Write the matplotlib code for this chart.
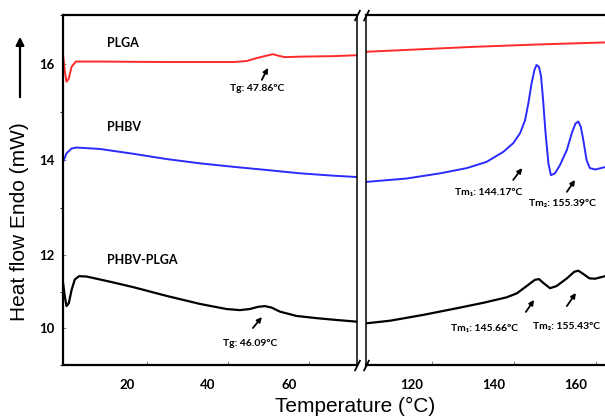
import numpy as np
import matplotlib
matplotlib.use("Agg")
import matplotlib.pyplot as plt
import matplotlib.transforms as mtransforms
from matplotlib.ticker import MultipleLocator

# ---- data (T in degC, heat flow in mW) ----
plga_T_lo = [-0.67, -0.25, 0.17, 0.74, 1.41, 2.47, 8.4, 24.86, 41.31, 44.62, 47.09, 49.56, 51.19,
             52.42, 54.07, 57.78, 66.0, 72.17]
plga_H_lo = [16.18, 15.84, 15.63, 15.70, 15.94, 16.05, 16.05, 16.04, 16.04, 16.06, 16.12, 16.17, 16.20,
             16.17, 16.14, 16.15, 16.16, 16.18]
plga_T_hi = [104.1, 117.1, 130.1, 146.3, 162.2]
plga_H_hi = [16.25, 16.30, 16.35, 16.40, 16.44]

phbv_T_lo = [-0.67, 0.17, 1.41, 2.64, 8.4, 16.62, 24.86, 33.09, 42.15, 49.56, 57.78, 66.0, 72.17]
phbv_H_lo = [13.96, 14.14, 14.24, 14.26, 14.23, 14.13, 14.02, 13.93, 13.85, 13.79, 13.72, 13.67, 13.64]
phbv_T_hi = [104.1, 113.8, 122.0, 128.5, 133.3, 137.4, 139.8, 141.5, 142.7, 143.5, 144.3, 145.0, 145.5,
             146.1, 146.6, 147.1, 147.7, 148.4, 149.0, 150.0, 151.2, 152.9, 154.1, 155.0, 155.7,
             156.3, 156.9, 157.7, 158.5, 159.8, 162.2]
phbv_H_hi = [13.54, 13.61, 13.72, 13.83, 13.96, 14.17, 14.35, 14.56, 14.83, 15.18, 15.60, 15.88, 15.98,
             15.94, 15.74, 15.25, 14.56, 13.93, 13.68, 13.72, 13.89, 14.21, 14.56, 14.76, 14.80,
             14.69, 14.42, 14.00, 13.83, 13.80, 13.85]

blend_T_lo = [-0.67, -0.25, 0.17, 0.74, 1.41, 2.22, 3.28, 5.11, 10.86, 16.62, 24.86, 33.09, 39.68,
              42.96, 45.43, 47.48, 49.14, 50.79, 52.84, 56.96, 61.9, 66.84, 72.17]
blend_H_lo = [11.22, 10.86, 10.60, 10.68, 11.04, 11.33, 11.42, 11.41, 11.27, 11.12, 10.88, 10.66, 10.52,
              10.49, 10.52, 10.58, 10.60, 10.56, 10.45, 10.33, 10.27, 10.22, 10.17]
blend_T_hi = [104.1, 109.8, 117.9, 126.0, 132.5, 138.2, 140.7, 143.1, 145.1, 146.1, 147.1, 148.8,
              150.4, 152.9, 154.7, 155.7, 156.9, 158.4, 159.8, 162.2]
blend_H_hi = [10.13, 10.20, 10.36, 10.54, 10.69, 10.84, 10.95, 11.15, 11.32, 11.34, 11.24, 11.09,
              11.15, 11.36, 11.54, 11.57, 11.48, 11.36, 11.35, 11.42]

y_ticks = [10, 12, 14, 16]
x_ticks_lo = [20, 40, 60]
x_ticks_hi = [120, 140, 160]

# the published y axis is not evenly spaced, so map it piecewise
V_ext = np.array([0, 9, 10, 12, 14, 16, 17, 30], dtype=float)
P_ext = np.array([698, 365, 328, 255, 160, 64, 15, -622], dtype=float)

def fwd(v):
    return np.interp(v, V_ext, -P_ext)

def inv(u):
    return np.interp(u, -P_ext, V_ext)

tick_font = dict(family=["Lato", "DejaVu Sans"], weight="bold", size=9.5)
note_font = dict(family=["Lato", "DejaVu Sans"], weight="bold", size=7.5)
name_font = dict(family=["Lato", "DejaVu Sans"], weight="bold", size=9)

W, H = 605, 418
fig = plt.figure(figsize=(W / 100, H / 100), dpi=100)
ax1 = fig.add_axes([63 / W, (H - 365) / H, (357 - 63) / W, 350 / H])
ax2 = fig.add_axes([366 / W, (H - 365) / H, (W - 366) / W, 350 / H])

for ax in (ax1, ax2):
    ax.set_yscale("function", functions=(fwd, inv))
    ax.set_ylim(9, 17)
    ax.tick_params(direction="in", length=3, width=0.7, color="#888888")
    for s in ax.spines.values():
        s.set_linewidth(1.6)

ax1.set_xlim(-0.7, 71.9)
ax2.set_xlim(103.9, 162.2)

ax1.plot(plga_T_lo, plga_H_lo, color="#ff2a2a", lw=1.4)
ax1.plot(phbv_T_lo, phbv_H_lo, color="#2b2bff", lw=1.4)
ax1.plot(blend_T_lo, blend_H_lo, color="black", lw=1.6)
ax2.plot(plga_T_hi, plga_H_hi, color="#ff2a2a", lw=1.4)
ax2.plot(phbv_T_hi, phbv_H_hi, color="#2b2bff", lw=1.4)
ax2.plot(blend_T_hi, blend_H_hi, color="black", lw=1.6)

ax1.set_yticks(y_ticks)
ax1.set_yticklabels([str(v) for v in y_ticks], **tick_font)
ax1.yaxis.set_minor_locator(MultipleLocator(1))
ax1.tick_params(axis="y", which="both", length=2, pad=6)
ax1.set_xticks(x_ticks_lo)
ax1.set_xticklabels([str(v) for v in x_ticks_lo], **tick_font)
ax2.set_xticks(x_ticks_hi)
ax2.set_xticklabels([str(v) for v in x_ticks_hi], **tick_font)
for ax in (ax1, ax2):
    ax.tick_params(axis="x", pad=10)

ax2.set_yticks([])
ax2.yaxis.set_minor_locator(MultipleLocator(100))
ax2.spines["right"].set_visible(False)
ax1.spines["right"].set_linewidth(1.1)
ax2.spines["left"].set_linewidth(1.1)

# labels in the source sit left of their ticks
shift = mtransforms.ScaledTranslation(-20 / 100, 0, fig.dpi_scale_trans)
for ax in (ax1, ax2):
    for lab in ax.get_xticklabels():
        lab.set_transform(lab.get_transform() + shift)

# break marks
kw = dict(marker=[(-0.5, -1), (0.5, 1)], markersize=8, linestyle="none",
          color="k", mec="k", mew=1.3, clip_on=False)
ax1.plot([1, 1], [0, 1], transform=ax1.transAxes, **kw)
ax2.plot([0, 0], [0, 1], transform=ax2.transAxes, **kw)

# sample names
ax1.text(10.1, 16.43, "PLGA", va="center", ha="left", **name_font)
ax1.text(10.1, 14.69, "PHBV", va="center", ha="left", **name_font)
ax1.text(10.1, 11.87, "PHBV-PLGA", va="center", ha="left", **name_font)

arrow = dict(arrowstyle="-|>", color="black", lw=1.3, mutation_scale=7,
             shrinkA=0, shrinkB=0)

def note(ax, text, xy, tail, txt):
    ax.annotate("", xy=xy, xytext=tail, arrowprops=arrow)
    ax.text(txt[0], txt[1], text, ha="center", va="center", **note_font)

note(ax1, "Tg: 47.86ºC", (49.9, 15.92), (48.4, 15.67), (47.2, 15.48))
note(ax1, "Tg: 46.09ºC", (48.4, 10.30), (46.2, 10.0), (45.4, 9.57))
note(ax2, "Tm₁: 144.17ºC", (142.0, 13.83), (139.8, 13.58), (133.9, 13.31))
note(ax2, "Tm₂: 155.39ºC", (154.9, 13.58), (152.9, 13.33), (151.7, 13.09))
note(ax2, "Tm₁: 145.66ºC", (144.9, 10.77), (142.9, 10.44), (132.7, 10.0))
note(ax2, "Tm₂: 155.43ºC", (155.1, 10.96), (152.9, 10.60), (152.9, 10.05))

# axis titles
fig.text(355 / W, 1 - 406 / H, "Temperature (°C)", ha="center", va="center",
         family="Liberation Sans", size=15)
fig.text(20 / W, 1 - 222 / H, "Heat flow Endo (mW)", ha="center", va="center",
         rotation=90, family="Liberation Sans", size=15)
fig.add_artist(matplotlib.patches.FancyArrowPatch(
    (20 / W, 1 - 100 / H), (20 / W, 1 - 34 / H), transform=fig.transFigure,
    arrowstyle="-|>", mutation_scale=12, lw=1.6, color="black"))

fig.savefig("out.png", dpi=100)
